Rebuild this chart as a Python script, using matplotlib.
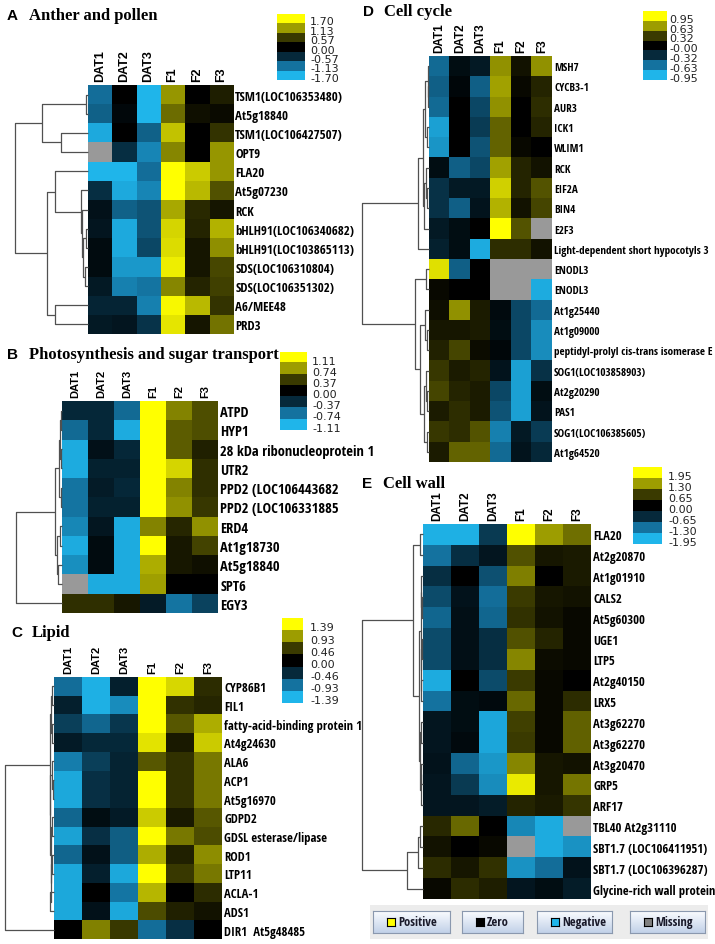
import numpy as np
import matplotlib
matplotlib.use("Agg")
import matplotlib.pyplot as plt
from matplotlib.colors import LinearSegmentedColormap
from matplotlib import font_manager
from matplotlib.font_manager import FontProperties

W, H = 715, 945
nan = np.nan

cols = ["DAT1", "DAT2", "DAT3", "F1", "F2", "F3"]

# ---- A  Anther and pollen
a_rows = ["TSM1(LOC106353480)", "At5g18840", "TSM1(LOC106427507)", "OPT9", "FLA20",
          "At5g07230", "RCK", "bHLH91(LOC106340682)", "bHLH91(LOC103865113)",
          "SDS(LOC106310804)", "SDS(LOC106351302)", "A6/MEE48", "PRD3"]
a_vals = np.array([
    [-1.10, 0.00, -1.70, 1.10, 0.00, 0.30],
    [-1.00, -0.10, -1.70, 0.85, 0.15, 0.10],
    [-1.60, 0.00, -1.00, 1.35, 0.00, 0.50],
    [nan, -0.60, -1.30, 1.00, 0.00, 1.10],
    [-1.70, -1.70, -1.10, 1.70, 1.40, 1.10],
    [-0.60, -1.60, -1.30, 1.70, 1.30, 0.70],
    [-0.25, -1.00, -0.90, 1.20, 0.40, 0.20],
    [-0.30, -1.60, -0.90, 1.45, 0.35, 1.25],
    [-0.15, -1.60, -0.80, 1.50, 0.20, 1.05],
    [-0.15, -1.45, -1.45, 1.60, 0.20, 0.65],
    [-0.35, -1.25, -1.15, 1.00, 0.35, 0.60],
    [-0.50, -0.50, -1.25, 1.65, 1.30, 0.50],
    [-0.35, -0.30, -0.65, 1.55, 0.20, 0.90],
])
a_scale = ["1.70", "1.13", "0.57", "0.00", "-0.57", "-1.13", "-1.70"]
a_tree = (73, (46, (2, 0, 1), (27, 2, 3)),
          (41, (33, 4, (7, 5, (6, 6, (5, (2, 7, 8), (3, 9, 10))))), (33, 11, 12)))

# ---- B  Photosynthesis and sugar transport
b_rows = ["ATPD", "HYP1", "28 kDa ribonucleoprotein 1", "UTR2", "PPD2 (LOC106443682",
          "PPD2 (LOC106331885", "ERD4", "At1g18730", "At5g18840", "SPT6", "EGY3"]
b_vals = np.array([
    [-0.35, -0.35, -0.70, 1.11, 0.65, 0.45],
    [-0.70, -0.35, -1.05, 1.11, 0.50, 0.45],
    [-1.05, -0.15, -0.35, 1.11, 0.50, 0.20],
    [-1.05, -0.30, -0.30, 1.11, 0.95, 0.30],
    [-0.75, -0.25, -0.35, 1.11, 0.65, 0.30],
    [-0.75, -0.30, -0.30, 1.11, 0.70, 0.35],
    [-0.85, -0.20, -1.05, 0.65, 0.25, 0.70],
    [-1.05, -0.10, -1.05, 1.11, 0.15, 0.40],
    [-0.90, -0.10, -1.05, 0.80, 0.15, 0.10],
    [nan, -1.05, -1.05, 0.75, 0.00, 0.00],
    [0.30, 0.30, 0.15, -0.25, -0.75, -0.50],
])
b_scale = ["1.11", "0.74", "0.37", "0.00", "-0.37", "-0.74", "-1.11"]
b_tree = (46, (7, (2.5, (1.5, (1, 0, 1), (1, 2, 3)), (1, 4, 5)),
               (5, (2, 6, 7), (4, 8, 9))), 10)

# ---- C  Lipid
c_rows = ["CYP86B1", "FIL1", "fatty-acid-binding protein 1", "At4g24630", "ALA6", "ACP1",
          "At5g16970", "GDPD2", "GDSL esterase/lipase", "ROD1", "LTP11", "ACLA-1", "ADS1",
          "DIR1  At5g48485"]
c_vals = np.array([
    [-0.90, -1.35, -0.35, 1.39, 1.20, 0.35],
    [-0.35, -1.35, -1.10, 1.39, 0.40, 0.30],
    [-0.60, -0.85, -0.55, 1.39, 0.60, 1.00],
    [-0.30, -0.45, -0.45, 1.25, 0.20, 1.15],
    [-1.00, -0.60, -0.40, 0.60, 0.40, 0.75],
    [-1.30, -0.50, -0.40, 1.39, 0.40, 0.75],
    [-1.30, -0.50, -0.40, 1.39, 0.40, 0.75],
    [-0.85, -0.15, -0.30, 1.15, 0.20, 0.60],
    [-1.25, -0.50, -0.80, 1.39, 0.75, 0.55],
    [-0.85, -0.20, -0.80, 1.00, 0.25, 0.85],
    [-1.30, -0.35, -1.30, 1.39, 0.45, 0.75],
    [-1.30, 0.00, -0.95, 1.05, 0.00, 0.35],
    [-1.30, -0.20, -1.30, 0.55, 0.25, 0.15],
    [0.00, 0.80, 0.45, -0.90, -0.50, 0.00],
])
c_scale = ["1.39", "0.93", "0.46", "0.00", "-0.46", "-0.93", "-1.39"]
c_tree = (49, (4, (2.5, (1.5, 0, 1), (1.5, 2, 3)),
               (3.5, (2, 4, (1, 5, 6)), (3, (2, 7, 8), (2.5, (1.5, 9, 10), (4, 11, 12))))), 13)

# ---- D  Cell cycle
d_rows = ["MSH7", "CYCB3-1", "AUR3", "ICK1", "WLIM1", "RCK", "EIF2A", "BIN4", "E2F3",
          "Light-dependent short hypocotyls 3", "ENODL3", "ENODL3", "At1g25440", "At1g09000",
          "peptidyl-prolyl cis-trans isomerase E", "SOG1(LOC103858903)", "At2g20290", "PAS1",
          "SOG1(LOC106385605)", "At1g64520"]
d_vals = np.array([
    [-0.60, -0.10, -0.20, 0.60, 0.10, 0.60],
    [-0.55, -0.05, -0.55, 0.65, 0.05, 0.20],
    [-0.60, 0.00, -0.45, 0.60, 0.00, 0.25],
    [-0.85, 0.00, -0.40, 0.45, 0.00, 0.20],
    [-0.80, 0.00, -0.50, 0.45, 0.05, 0.00],
    [-0.10, -0.55, -0.45, 0.65, 0.20, 0.10],
    [-0.35, -0.20, -0.20, 0.80, 0.20, 0.40],
    [-0.35, -0.55, -0.15, 0.70, 0.10, 0.35],
    [-0.20, -0.10, 0.00, 0.95, 0.40, nan],
    [-0.25, -0.10, -0.90, 0.25, 0.25, 0.10],
    [0.85, -0.55, 0.00, nan, nan, nan],
    [0.05, 0.00, 0.00, nan, nan, -0.90],
    [0.08, 0.60, 0.15, -0.08, -0.45, -0.60],
    [0.12, 0.12, 0.15, -0.10, -0.45, -0.75],
    [0.18, 0.35, 0.07, -0.05, -0.45, -0.75],
    [0.30, 0.15, 0.20, -0.15, -0.85, -0.35],
    [0.35, 0.20, 0.15, -0.45, -0.85, -0.10],
    [0.15, 0.25, 0.15, -0.50, -0.85, -0.15],
    [0.30, 0.25, 0.40, -0.70, -0.20, -0.40],
    [0.15, 0.45, 0.45, -0.60, -0.15, -0.30],
])
d_scale = ["0.95", "0.63", "0.32", "-0.00", "-0.32", "-0.63", "-0.95"]
d_tree = (67, (11, (6, (4, (1.5, 0, (1, 1, 2)), (2, 3, 4)), (5, (3, 5, (2, 6, 7)), 8)), 9),
          (14, (3, 10, 11), (9, (4, 12, (2, 13, 14)), (5, (3, 15, (2, 16, 17)), (2.5, 18, 19)))))

# ---- E  Cell wall
e_rows = ["FLA20", "At2g20870", "At1g01910", "CALS2", "At5g60300", "UGE1", "LTP5",
          "At2g40150", "LRX5", "At3g62270", "At3g62270", "At3g20470", "GRP5", "ARF17",
          "TBL40 At2g31110", "SBT1.7 (LOC106411951)", "SBT1.7 (LOC106396287)",
          "Glycine-rich wall protein"]
e_vals = np.array([
    [-1.90, -1.90, -0.80, 1.95, 1.30, 1.00],
    [-1.30, -0.70, -0.35, 0.80, 0.25, 0.30],
    [-0.70, 0.00, -1.00, 1.10, 0.00, 0.30],
    [-0.95, -0.30, -1.25, 0.65, 0.25, 0.20],
    [-1.20, -0.25, -1.20, 0.55, 0.20, 0.10],
    [-0.95, -0.25, -0.70, 0.80, 0.40, 0.10],
    [-0.95, -0.25, -0.70, 1.15, 0.15, 0.10],
    [-1.85, 0.00, -0.95, 0.65, 0.10, 0.00],
    [-1.30, -0.20, -0.15, 0.95, 0.10, 0.50],
    [-0.35, -0.20, -1.80, 0.70, 0.10, 0.90],
    [-0.35, -0.15, -1.80, 0.65, 0.10, 0.90],
    [-0.30, -1.20, -1.65, 1.15, 0.25, 0.20],
    [-0.35, -0.80, -1.55, 1.80, 0.25, 1.05],
    [-0.35, -0.35, -0.45, 0.40, 0.30, 0.60],
    [0.45, 0.95, 0.00, -1.50, -1.85, nan],
    [0.20, 0.00, 0.10, nan, -1.85, -1.60],
    [0.50, 0.25, 0.55, -1.60, -1.25, -0.30],
    [0.10, 0.50, 0.35, -0.35, -0.20, -0.45],
])
e_scale = ["1.95", "1.30", "0.65", "0.00", "-0.65", "-1.30", "-1.95"]
e_tree = (61, (10, (3, 0, 1), (4, (2.5, (2, 2, (1.5, 3, 4)), (2, (1, 5, 6), (2, 7, 8))),
                               (3, (2, 9, 10), (2.5, (2, 11, 12), 13)))),
          (16, (5, (3, 14, 15), 16), 17))

legend_names = ["Positive", "Zero", "Negative", "Missing"]
legend_colors = ["#ffff00", "#000000", "#1fb5ea", "#808080"]

# ---------------------------------------------------------------
sans = "Liberation Sans"
serif = "Liberation Serif"


def pick_narrow_bold():
    # look for any installed condensed / narrow bold face
    prefs = ["liberation sans narrow", "noto sans condensed", "open sans condensed",
             "dejavu sans condensed", "roboto condensed"]
    best, best_rank = None, 99
    for f in font_manager.fontManager.ttflist:
        nm, fn = f.name.lower(), f.fname.lower()
        narrowish = ("narrow" in nm or "condensed" in nm or "narrow" in fn
                     or "condensed" in fn or "cond" in fn
                     or str(f.stretch) in ("condensed", "semi-condensed", "extra-condensed"))
        if not narrowish or "italic" in fn or "oblique" in fn:
            continue
        w = f.weight
        boldish = (w in ("bold", "semibold", "demibold")) or (isinstance(w, int) and w >= 600)
        if not boldish:
            continue
        if "semi" in fn or "extra" in fn or "ultra" in fn:
            continue
        rank = 50
        for i, p in enumerate(prefs):
            if p in nm or p.replace(" ", "") in fn.replace("-", "").replace("_", ""):
                rank = i
                break
        if rank < best_rank:
            best, best_rank = f, rank
    if best is None:
        return FontProperties(family=sans, weight="bold")
    return FontProperties(fname=best.fname)


narrow_fp = pick_narrow_bold()

cmap = LinearSegmentedColormap.from_list("by", [
    (0.0, "#1fb5ea"), (1/6, "#14729f"), (1/3, "#06293b"), (0.5, "#000000"),
    (2/3, "#3a3a00"), (5/6, "#9c9c00"), (1.0, "#ffff00")])
cmap.set_bad("#999999")

fig = plt.figure(figsize=(W / 100, H / 100), dpi=100)
renderer = fig.canvas.get_renderer()


def fit_size(text, target_px, cap):
    fp = narrow_fp.copy()
    fp.set_size(10)
    t = fig.text(0, 0, text, fontproperties=fp)
    w = t.get_window_extent(renderer).width
    t.remove()
    return min(cap, 10 * target_px / w)


def px_axes(x0, y0, x1, y1):
    return fig.add_axes([x0 / W, 1 - y1 / H, (x1 - x0) / W, (y1 - y0) / H])


def draw_tree(ax, t):
    if isinstance(t, int):
        return t, 0
    h, a, b = t
    pa, ha = draw_tree(ax, a)
    pb, hb = draw_tree(ax, b)
    ax.plot([ha, h, h, hb], [pa, pa, pb, pb], color="#505050", lw=0.9,
            solid_capstyle="butt", clip_on=False)
    return (pa + pb) / 2, h


def panel(letter, title, rows, vals, scale, tree, hm, dx, cb, cbx, ty, lx, tx,
          fit, csize):
    x0, x1, y0, y1 = hm
    n = len(rows)
    vmax = float(scale[0])
    ax = px_axes(x0, y0, x1, y1)
    ax.imshow(vals, cmap=cmap, vmin=-vmax, vmax=vmax, aspect="auto",
              interpolation="nearest")
    ax.yaxis.tick_right()
    ax.xaxis.tick_top()
    ax.set_yticks(range(n))
    fp = narrow_fp.copy()
    fp.set_size(fit_size(fit[0], fit[1], 11))
    ax.set_yticklabels(rows, fontproperties=fp)
    ax.set_xticks(range(6))
    ax.set_xticklabels(cols, rotation=90, fontfamily=sans, fontweight="bold",
                       fontsize=csize)
    ax.tick_params(length=0, pad=1.5)
    ax.tick_params(axis="x", pad=3)
    for s in ax.spines.values():
        s.set_visible(False)

    dax = px_axes(dx, y0, x0, y1)
    draw_tree(dax, tree)
    dax.set_xlim(tree[0], 0)
    dax.set_ylim(n - 0.5, -0.5)
    dax.axis("off")

    # colour key
    cx0, cy0, cx1, cy1 = cb
    cax = px_axes(cx0, cy0, cx1, cy1)
    key = np.linspace(1, 0, 7).reshape(-1, 1)
    cax.imshow(key, cmap=cmap, vmin=0, vmax=1, aspect="auto", interpolation="nearest")
    cax.axis("off")
    bh = (cy1 - cy0) / 7
    for i, lab in enumerate(scale):
        fig.text(cbx / W, 1 - (cy0 + (i + 0.78) * bh) / H, lab, ha="left", va="center",
                 fontfamily="DejaVu Sans", fontsize=8, color="#222222")

    fig.text(lx / W, 1 - ty / H, letter, ha="left", va="center", fontfamily=sans,
             fontweight="bold", fontsize=11)
    fig.text(tx / W, 1 - ty / H, title, ha="left", va="center", fontfamily=serif,
             fontweight="bold", fontsize=12)


panel("A", "Anther and pollen", a_rows, a_vals, a_scale, a_tree,
      (88, 233, 86, 335), 15, (277, 15, 305, 81), 310, 16, 7, 29,
      ("TSM1(LOC106353480)", 108), 9)
panel("B", "Photosynthesis and sugar transport", b_rows, b_vals, b_scale, b_tree,
      (62, 218, 402, 614), 16, (280, 353, 307, 431), 312, 355, 7, 29,
      ("PPD2 (LOC106443682", 119), 8)
panel("C", "Lipid", c_rows, c_vals, c_scale, c_tree,
      (54, 222, 678, 940), 5, (282, 619, 303, 704), 310, 633, 11, 32,
      ("GDSL esterase/lipase", 103), 8)
panel("D", "Cell cycle", d_rows, d_vals, d_scale, d_tree,
      (429, 552, 57, 463), 362, (643, 12, 667, 81), 669, 12, 363, 384,
      ("Light-dependent short hypocotyls 3", 154), 8.5)
panel("E", "Cell wall", e_rows, e_vals, e_scale, e_tree,
      (423, 591, 525, 900), 362, (633, 468, 662, 545), 668, 484, 362, 383,
      ("SBT1.7 (LOC106411951)", 115), 8.5)

# legend buttons
bg = px_axes(370, 906, 708, 940)
bg.set_facecolor("#ececec")
bg.set_xticks([])
bg.set_yticks([])
for s in bg.spines.values():
    s.set_visible(False)
grad = np.linspace(0, 1, 40).reshape(-1, 1, 1)
top = np.array([0.98, 0.99, 1.0]).reshape(1, 1, 3)
bot = np.array([0.76, 0.82, 0.91]).reshape(1, 1, 3)
grad_img = top * (1 - grad) + bot * grad
buttons = [(373, 450), (462, 523), (537, 612), (630, 705)]
btn_fp = narrow_fp.copy()
btn_fp.set_size(fit_size("Positive", 39, 10))
for (bx0, bx1), name, colr in zip(buttons, legend_names, legend_colors):
    bax = px_axes(bx0, 912, bx1, 934)
    bax.imshow(grad_img, aspect="auto", extent=(0, 1, 0, 1))
    bax.set_xlim(0, 1)
    bax.set_ylim(0, 1)
    bax.set_xticks([])
    bax.set_yticks([])
    for s in bax.spines.values():
        s.set_color("#8a98ae")
        s.set_linewidth(0.8)
    sq = px_axes(bx0 + 14, 919, bx0 + 22, 927)
    sq.set_facecolor(colr)
    sq.set_xticks([])
    sq.set_yticks([])
    for s in sq.spines.values():
        s.set_color("#000000")
        s.set_linewidth(0.8)
    fig.text((bx0 + 25) / W, 1 - 923 / H, name, ha="left", va="center",
             fontproperties=btn_fp, color="#1a1a2a")

fig.savefig("out.png", dpi=100)
